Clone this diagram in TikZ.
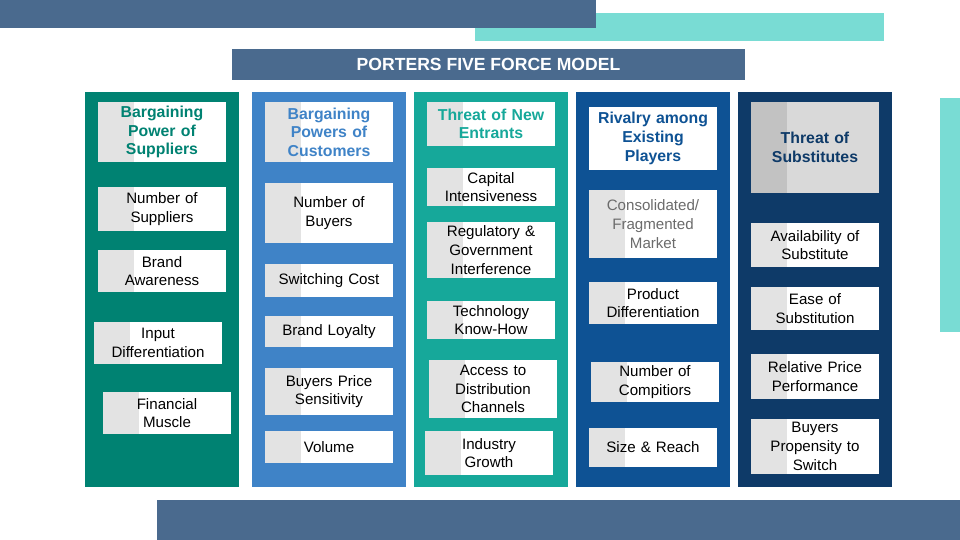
\documentclass[tikz,border=0pt]{standalone}
\usepackage{fontspec}
\setmainfont{Liberation Sans}
\usetikzlibrary{positioning}
\definecolor{slatebar}{HTML}{4A6A8E}
\definecolor{mintbar}{HTML}{79DCD4}
\definecolor{supgreen}{HTML}{008272}
\definecolor{cusblue}{HTML}{3F83C7}
\definecolor{entteal}{HTML}{16A89A}
\definecolor{rivblue}{HTML}{0E5294}
\definecolor{subnavy}{HTML}{0E3A68}
\definecolor{stripgrey}{HTML}{E3E3E3}

\begin{document}
\begin{tikzpicture}[x=0.02cm, y=-0.02cm,
    factor/.style={rectangle, fill=white, inner sep=1pt, align=center, font=\fontsize{8.6}{10.6}\selectfont,
      text width=2.5cm, path picture={\fill[stripgrey] (path picture bounding box.north west) rectangle ([xshift=0.72cm]path picture bounding box.south west);}},
    heading/.style={factor, font=\fontsize{9}{10.6}\selectfont\bfseries}
]
\useasboundingbox (0,0) rectangle (960,540);

% background bars
\fill[mintbar] (475,13) rectangle (884,41);
\fill[slatebar] (0,0) rectangle (596,28);
\fill[mintbar] (940,98) rectangle (960,332);
\fill[slatebar] (157,500) rectangle (960,540);
\node[fill=slatebar, minimum width=10.26cm, minimum height=0.62cm, text=white, font=\fontsize{10}{12}\selectfont\bfseries] (title) at (488.5,64.5) {PORTERS FIVE FORCE MODEL};

% five columns
\fill[supgreen] (85,92) rectangle (239,487);
\fill[cusblue] (252,92) rectangle (406,487);
\fill[entteal] (414,92) rectangle (568,487);
\fill[rivblue] (576,92) rectangle (730,487);
\fill[subnavy] (738,92) rectangle (892,487);

% suppliers
\node[heading, text=supgreen, minimum height=1.2cm] (sup) at (162,132) {Bargaining\\Power of\\Suppliers};
\node[factor, minimum height=0.88cm] (sup1) at (162,209) {Number of\\Suppliers};
\node[factor, minimum height=0.84cm] (sup2) at (162,271) {Brand\\Awareness};
\node[factor, minimum height=0.84cm] (sup3) at (158,343) {Input\\Differentiation};
\node[factor, minimum height=0.84cm] (sup4) at (167,413) {Financial\\Muscle};

% customers
\node[heading, text=cusblue, minimum height=1.2cm] (cus) at (329,132) {Bargaining\\Powers of\\Customers};
\node[factor, minimum height=1.2cm] (cus1) at (329,213) {Number of\\Buyers};
\node[factor, minimum height=0.66cm] (cus2) at (329,280.5) {Switching Cost};
\node[factor, minimum height=0.62cm] (cus3) at (329,331.5) {Brand Loyalty};
\node[factor, minimum height=0.94cm] (cus4) at (329,391.5) {Buyers Price\\Sensitivity};
\node[factor, minimum height=0.64cm] (cus5) at (329,447) {Volume};

% new entrants
\node[heading, text=entteal, minimum height=0.88cm] (ent) at (491,124) {Threat of New\\Entrants};
\node[factor, minimum height=0.76cm] (ent1) at (491,187) {Capital\\Intensiveness};
\node[factor, minimum height=1.12cm] (ent2) at (491,250) {Regulatory \&\\Government\\Interference};
\node[factor, minimum height=0.76cm] (ent3) at (491,320) {Technology\\Know-How};
\node[factor, minimum height=1.16cm] (ent4) at (493,389) {Access to\\Distribution\\Channels};
\node[factor, minimum height=0.88cm] (ent5) at (489,453) {Industry\\Growth};

% rivalry
\node[heading, text=rivblue, minimum height=1.26cm, path picture={}] (riv) at (653,138.5) {Rivalry among\\Existing\\Players};
\node[factor, text=black!58, minimum height=1.36cm] (riv1) at (653,224) {Consolidated/\\Fragmented\\Market};
\node[factor, minimum height=0.84cm] (riv2) at (653,303) {Product\\Differentiation};
\node[factor, minimum height=0.8cm] (riv3) at (655,382) {Number of\\Compitiors};
\node[factor, minimum height=0.78cm] (riv4) at (653,447.5) {Size \& Reach};

% substitutes
\node[heading, text=subnavy, fill=black!15, minimum height=1.82cm, path picture={\fill[black!24] (path picture bounding box.north west) rectangle ([xshift=0.72cm]path picture bounding box.south west);}] (sub) at (815,147.5) {Threat of\\Substitutes};
\node[factor, minimum height=0.88cm] (sub1) at (815,245) {Availability of\\Substitute};
\node[factor, minimum height=0.86cm] (sub2) at (815,308.5) {Ease of\\Substitution};
\node[factor, minimum height=0.9cm] (sub3) at (815,376.5) {Relative Price\\Performance};
\node[factor, minimum height=1.1cm] (sub4) at (815,446.5) {Buyers\\Propensity to\\Switch};
\end{tikzpicture}
\end{document}
